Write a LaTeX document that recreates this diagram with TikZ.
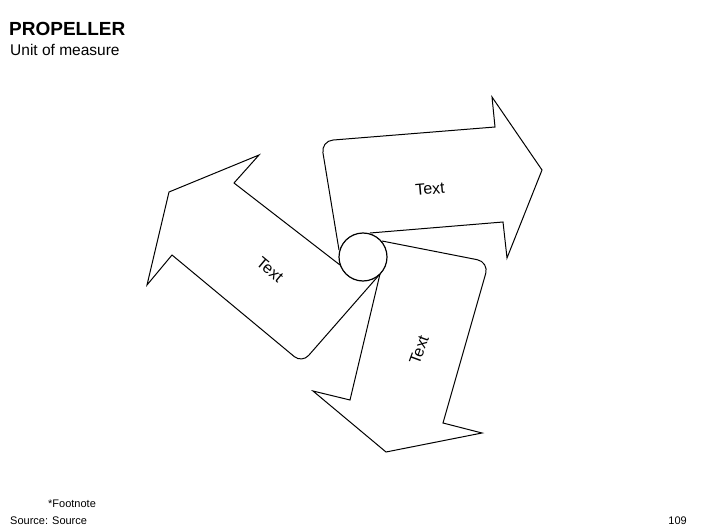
\documentclass[tikz,border=0pt]{standalone}
\usepackage{fontspec}
\setmainfont{Liberation Sans}
\usetikzlibrary{calc}
\tikzstyle{blade} = [draw, line width=1pt, line join=miter]
\tikzstyle{bladetext} = [font=\fontsize{16}{19}\selectfont]
\tikzstyle{hubnode} = [draw, circle, line width=1.2pt, minimum size=48pt, inner sep=0pt, fill=white]
\tikzstyle{notetext} = [anchor=base west, inner sep=0pt, font=\fontsize{11}{13}\selectfont]

\begin{document}
\begin{tikzpicture}[x=1pt, y=-1pt]
\useasboundingbox (0,0) rectangle (706,529);
\node[anchor=base west, inner sep=0pt, font=\fontsize{19}{22}\selectfont\bfseries] (title) at (9,36) {PROPELLER};
\node[anchor=base west, inner sep=0pt, font=\fontsize{15.5}{18}\selectfont] (unit) at (10,56) {Unit of measure};

% three blades round the hub
\draw[blade] (339,250) [rounded corners=12pt] -- (321,141) [sharp corners] -- (495,127) -- (492,97) -- (542,170) -- (507,258) -- (503,222) -- (370,233);
\draw[blade] (340,265) -- (234,183) -- (259,155) -- (169,192) -- (147,285) -- (172,255) [rounded corners=10pt] -- (302,363) [sharp corners] -- (380,274);
\draw[blade] (382,241) [rounded corners=12pt] -- (489,262) [sharp corners] -- (443,423) -- (482,433) -- (386,452) -- (313,391) -- (350,400) -- (380,274);
\node[hubnode] (hub) at (363,257) {};

\node[bladetext, rotate=5] (toptext) at (430,189) {Text};
\node[bladetext, rotate=-40] (lefttext) at (270,270) {Text};
\node[bladetext, rotate=70] (bottomtext) at (419,350) {Text};

\node[notetext] (footnote) at (48,507) {*Footnote};
\node[notetext] (source) at (10,524) {Source: Source};
\node[notetext, anchor=base east] (page) at (687,524) {109};
\end{tikzpicture}
\end{document}
